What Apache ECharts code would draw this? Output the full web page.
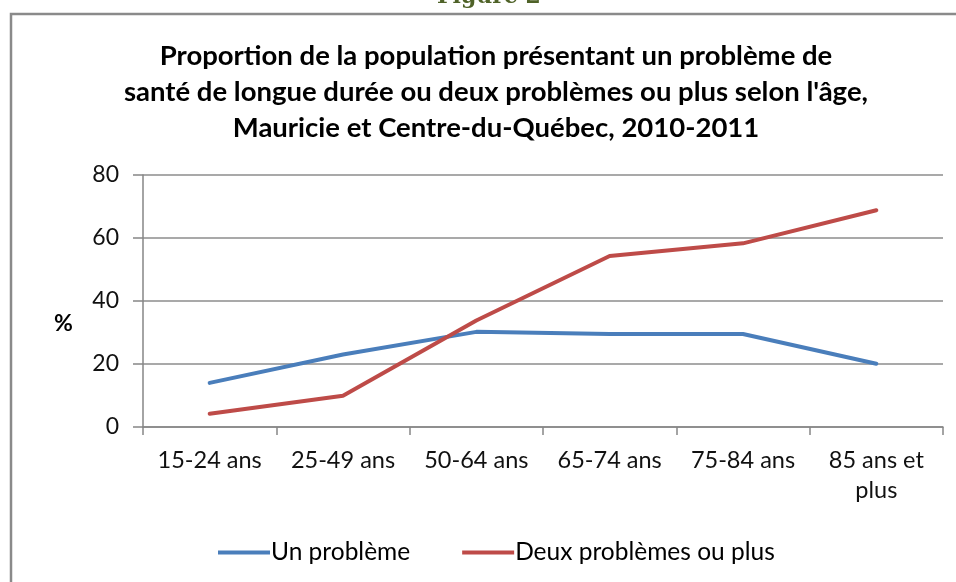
<!DOCTYPE html>
<html>
<head>
<meta charset="utf-8">
<script src="https://cdn.jsdelivr.net/npm/echarts@6.0.0/dist/echarts.min.js"></script>
<style>
  html, body { margin: 0; padding: 0; background: #fff; }
  #chart { width: 956px; height: 582px; }
</style>
</head>
<body>
<div id="chart"></div>
<script>
const FONT = 'Lato, "Open Sans", sans-serif'

const titleText = 'Proportion de la population présentant un problème de\nsanté de longue durée ou deux problèmes ou plus selon l\'âge,\nMauricie et Centre-du-Québec, 2010-2011'
const categories = ['15-24 ans', '25-49 ans', '50-64 ans', '65-74 ans', '75-84 ans', '85 ans et\nplus']
const unProbleme = [14.0, 23.0, 30.2, 29.5, 29.5, 20.1]
const deuxProblemes = [4.2, 9.9, 33.8, 54.3, 58.3, 68.8]
const yTicks = [0, 20, 40, 60, 80]

const chart = echarts.init(document.getElementById('chart'), null, { renderer: 'canvas' })

chart.setOption({
  backgroundColor: '#fff',
  animation: false,
  textStyle: { fontFamily: FONT },
  title: {
    text: titleText,
    left: 491,
    top: 33,
    textAlign: 'center',
    textStyle: { fontFamily: FONT, fontWeight: 'bold', fontSize: 27.5, lineHeight: 36, color: '#000' }
  },
  graphic: [
    {
      type: 'rect',
      shape: { x: 11, y: 14, width: 1000, height: 700 },
      style: { fill: 'none', stroke: '#8a8a8a', lineWidth: 2.5 },
      silent: true
    },
    {
      type: 'text',
      left: 437,
      top: -14,
      style: { text: 'Figure 2', font: 'bold 22px "DejaVu Serif", serif', fill: '#4f6228' }
    },
    {
      type: 'text',
      left: 54,
      top: 312,
      style: { text: '%', font: 'bold 23px ' + FONT, fill: '#000' }
    }
  ],
  legend: {
    left: 213,
    top: 535,
    itemWidth: 52,
    itemHeight: 4,
    itemGap: 52,
    icon: 'rect',
    textStyle: { fontFamily: FONT, fontSize: 24.5, color: '#000', padding: [0, 0, 0, -4] },
    data: ['Un problème', 'Deux problèmes ou plus']
  },
  grid: { left: 143, right: 13, top: 175, bottom: 155, containLabel: false },
  xAxis: {
    type: 'category',
    data: categories,
    boundaryGap: true,
    axisLine: { lineStyle: { color: '#868686', width: 1.5 } },
    axisTick: { show: true, length: 8, lineStyle: { color: '#868686', width: 1.5 } },
    axisLabel: { interval: 0, fontFamily: FONT, fontSize: 23.5, color: '#111', margin: 18, lineHeight: 30 }
  },
  yAxis: {
    type: 'value',
    min: yTicks[0],
    max: yTicks[yTicks.length - 1],
    interval: 20,
    axisLine: { show: true, lineStyle: { color: '#868686', width: 1.5 } },
    axisTick: { show: true, length: 10, lineStyle: { color: '#868686', width: 1.5 } },
    splitLine: { lineStyle: { color: '#8c8c8c', width: 1.5 } },
    axisLabel: { fontFamily: FONT, fontSize: 23, color: '#111', margin: 24 }
  },
  series: [
    {
      name: 'Un problème',
      type: 'line',
      data: unProbleme,
      showSymbol: false,
      symbol: 'none',
      lineStyle: { color: '#4a7ebb', width: 4, cap: 'round' },
      itemStyle: { color: '#4a7ebb' }
    },
    {
      name: 'Deux problèmes ou plus',
      type: 'line',
      data: deuxProblemes,
      showSymbol: false,
      symbol: 'none',
      lineStyle: { color: '#be4b48', width: 4, cap: 'round' },
      itemStyle: { color: '#be4b48' }
    }
  ]
})
</script>
</body>
</html>
